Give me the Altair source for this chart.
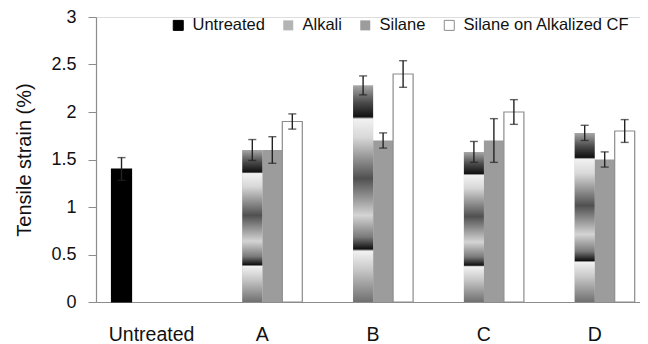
import altair as alt
import pandas as pd

groups = ["Untreated", "A", "B", "C", "D"]
series = ["Untreated", "Alkali", "Silane", "Silane on Alkalized CF"]

bar_group = ["Untreated", "A", "A", "A", "B", "B", "B", "C", "C", "C", "D", "D", "D"]
bar_series = ["Untreated",
              "Alkali", "Silane", "Silane on Alkalized CF",
              "Alkali", "Silane", "Silane on Alkalized CF",
              "Alkali", "Silane", "Silane on Alkalized CF",
              "Alkali", "Silane", "Silane on Alkalized CF"]
values = [1.40, 1.60, 1.60, 1.90, 2.28, 1.70, 2.40, 1.58, 1.70, 2.00, 1.78, 1.50, 1.80]
errors = [0.12, 0.11, 0.14, 0.08, 0.10, 0.08, 0.14, 0.11, 0.23, 0.13, 0.08, 0.08, 0.12]

df = pd.DataFrame({"group": bar_group, "series": bar_series, "value": values, "err": errors})
df["lo"] = df["value"] - df["err"]
df["hi"] = df["value"] + df["err"]

FONT = "Liberation Sans"
GRAY = "#8c8c8c"
YTITLE = "Tensile strain (%)"

alkali_fill = alt.Gradient(
    gradient="linear", x1=0, x2=0, y1=0, y2=1,
    stops=[
        alt.GradientStop(color="#a8a8a8", offset=0.0),
        alt.GradientStop(color="#4a4a4a", offset=0.08),
        alt.GradientStop(color="#111111", offset=0.145),
        alt.GradientStop(color="#f2f2f2", offset=0.155),
        alt.GradientStop(color="#d8d8d8", offset=0.24),
        alt.GradientStop(color="#505050", offset=0.43),
        alt.GradientStop(color="#d4d4d4", offset=0.60),
        alt.GradientStop(color="#7a7a7a", offset=0.70),
        alt.GradientStop(color="#101010", offset=0.755),
        alt.GradientStop(color="#f2f2f2", offset=0.765),
        alt.GradientStop(color="#c8c8c8", offset=0.85),
        alt.GradientStop(color="#707070", offset=1.0),
    ],
)

y_axis = alt.Axis(values=[0, 0.5, 1, 1.5, 2, 2.5, 3], format=".1~f", grid=False,
                  tickSize=8, tickColor=GRAY, domainColor=GRAY, domainWidth=1.2,
                  labelFontSize=18, labelPadding=12, labelColor="#111111", labelFont=FONT,
                  titleFontSize=20, titleFontWeight="normal", titlePadding=16,
                  titleColor="#111111", titleFont=FONT)

x_enc = alt.X(
    "group:N", sort=groups,
    scale=alt.Scale(domain=groups, paddingInner=0.278, paddingOuter=0.094, align=0.745),
    axis=alt.Axis(title=None, labelAngle=0, ticks=False, domainColor=GRAY, domainWidth=1.2,
                  labelFontSize=19.5, labelPadding=23, labelColor="#111111", labelFont=FONT),
)
xo_enc = alt.XOffset("series:N", sort=series,
                     scale=alt.Scale(domain=series, paddingInner=0, paddingOuter=0))
y_scale = alt.Scale(domain=[0, 3], nice=False)

base = alt.Chart(df).encode(x=x_enc, xOffset=xo_enc)

bars = base.mark_bar(strokeWidth=1.2).encode(
    y=alt.Y("value:Q", scale=y_scale, title=YTITLE, axis=y_axis),
    color=alt.Color("series:N", sort=series,
                    scale=alt.Scale(domain=series, range=["#000000", "#b4b4b4", "#9c9c9c", "#ffffff"]),
                    legend=alt.Legend(title=None, orient="none", legendX=74, legendY=0,
                                      direction="horizontal", symbolType="square", symbolSize=100,
                                      labelFontSize=16.5, labelFont=FONT, labelColor="#111111",
                                      labelOffset=6, columnPadding=15, labelLimit=400,
                                      symbolStrokeColor="#555555", symbolStrokeWidth=1)),
    stroke=alt.Stroke("series:N", sort=series,
                      scale=alt.Scale(domain=series, range=["#000000", "transparent", "transparent", GRAY]),
                      legend=None),
)

alk = base.transform_filter(alt.datum.series == "Alkali").mark_bar(fill=alkali_fill, strokeWidth=0).encode(
    y=alt.Y("value:Q", scale=y_scale, title=YTITLE, axis=y_axis),
)

rules = base.mark_rule(color="#222222", strokeWidth=1.4).encode(
    y=alt.Y("lo:Q", scale=y_scale, title=YTITLE, axis=y_axis), y2="hi:Q")
cap_hi = base.mark_tick(color="#222222", thickness=1.4, size=8).encode(
    y=alt.Y("hi:Q", scale=y_scale, title=YTITLE, axis=y_axis))
cap_lo = base.mark_tick(color="#222222", thickness=1.4, size=8).encode(
    y=alt.Y("lo:Q", scale=y_scale, title=YTITLE, axis=y_axis))

chart = alt.layer(bars, alk, rules, cap_hi, cap_lo).properties(
    width=544, height=285,
    autosize=alt.AutoSizeParams(type="none"),
    padding={"left": 88, "top": 9, "right": 0, "bottom": 46},
).configure_view(stroke=None).configure(font=FONT)

chart.save("out.html", embed_options={"renderer": "svg", "actions": False})
